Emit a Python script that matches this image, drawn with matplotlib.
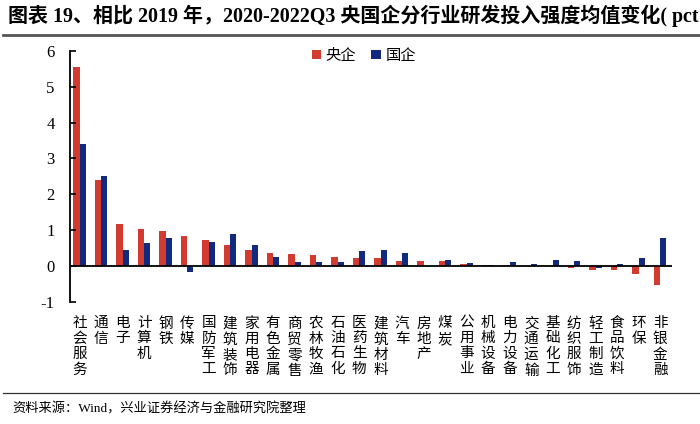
import numpy as np
import matplotlib.pyplot as plt
from matplotlib.lines import Line2D

plt.rcParams['font.family'] = ['Liberation Serif', 'Noto Sans CJK SC']

# 行业及央企、国企研发投入强度均值变化(pct)
industries = ['社会服务', '通信', '电子', '计算机', '钢铁', '传媒', '国防军工', '建筑装饰',
              '家用电器', '有色金属', '商贸零售', '农林牧渔', '石油石化', '医药生物',
              '建筑材料', '汽车', '房地产', '煤炭', '公用事业', '机械设备', '电力设备',
              '交通运输', '基础化工', '纺织服饰', '轻工制造', '食品饮料', '环保', '非银金融']
central = [5.55, 2.41, 1.17, 1.04, 0.99, 0.84, 0.73, 0.58, 0.45, 0.37, 0.34, 0.30, 0.26, 0.23,
           0.22, 0.15, 0.13, 0.13, 0.06, 0.04, 0.03, 0.01, 0.01, -0.05, -0.10, -0.12, -0.21, -0.54]
state = [3.40, 2.50, 0.44, 0.65, 0.77, -0.18, 0.68, 0.89, 0.59, 0.26, 0.12, 0.11, 0.12, 0.42,
         0.44, 0.37, 0.01, 0.17, 0.09, 0.03, 0.11, 0.07, 0.18, 0.13, -0.06, 0.07, 0.22, 0.78]
yticks = [-1, 0, 1, 2, 3, 4, 5, 6]

red = '#D23C30'
blue = '#112A80'

fig = plt.figure(figsize=(7, 4.24), dpi=100)
ax = fig.add_axes([0.1, 0.288, 0.86, 0.592])

x = np.arange(len(industries))
w = 0.29
ax.bar(x - w / 2, central, w, color=red, label='央企')
ax.bar(x + w / 2, state, w, color=blue, label='国企')
ax.axhline(0, color='black', lw=1.3)

ax.set_xlim(-0.45, 27.55)
ax.set_ylim(-1, 6)
ax.set_yticks(yticks)
ax.set_yticklabels([str(t) for t in yticks], fontsize=12)
ax.tick_params(axis='y', direction='in', length=4, width=1.2, pad=11)
ax.set_xticks([])
for s in ['top', 'right', 'bottom']:
    ax.spines[s].set_visible(False)
ax.spines['left'].set_linewidth(1.3)

# 竖排行业标签
for i, name in enumerate(industries):
    ax.text(i, -1.42, '\n'.join(name), ha='center', va='top', fontsize=10.5,
            linespacing=1.22, transform=ax.transData)

ax.legend(loc='center', bbox_to_anchor=(0.488, 0.98), ncol=2, frameon=False,
          fontsize=11, handlelength=0.6, handleheight=0.6, handletextpad=0.3,
          columnspacing=1.0)

fig.text(0.012, 0.962, '图表 19、相比 2019 年，2020-2022Q3 央国企分行业研发投入强度均值变化( pct',
         fontsize=14.4, fontweight='bold', va='center', ha='left')
fig.add_artist(Line2D([0.004, 1.0], [0.917, 0.917], color='#555555', lw=2))
fig.add_artist(Line2D([0.004, 1.0], [0.073, 0.073], color='#333333', lw=0.9))
fig.text(0.017, 0.035, '资料来源：Wind，兴业证券经济与金融研究院整理', fontsize=9.5,
         va='center', ha='left')

fig.savefig('out.png', dpi=100)
